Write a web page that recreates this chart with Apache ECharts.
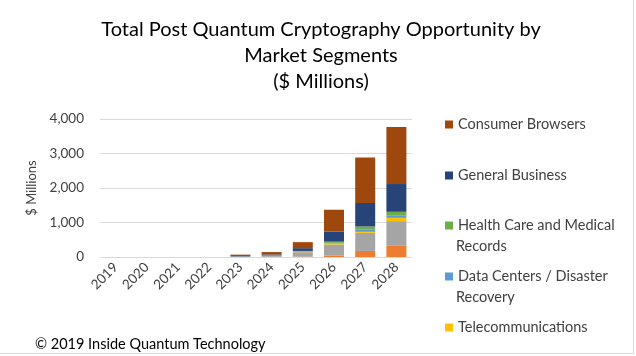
<!DOCTYPE html>
<html>
<head>
<meta charset="utf-8">
<script src="https://cdn.jsdelivr.net/npm/echarts@6/dist/echarts.min.js"></script>
<style>html,body{margin:0;padding:0;background:#fff}#c{width:636px;height:356px}</style>
</head>
<body>
<div id="c"></div>
<script>
var years = ['2019','2020','2021','2022','2023','2024','2025','2026','2027','2028'];
// stacked bottom to top
var otherA = [0, 0, 0, 0, 2, 5, 10, 45, 175, 340];          // orange (not in visible legend)
var otherB = [0, 0, 0, 0, 10, 30, 130, 320, 525, 700];      // gray (not in visible legend)
var telecom = [0, 0, 0, 0, 1, 3, 6, 25, 30, 95];
var dataCenters = [0, 0, 0, 0, 1, 3, 10, 20, 75, 60];
var healthCare = [0, 0, 0, 0, 2, 4, 20, 35, 80, 115];
var generalBusiness = [0, 0, 0, 0, 12, 30, 80, 290, 680, 805];
var consumerBrowsers = [0, 0, 0, 0, 40, 68, 175, 635, 1320, 1650];
var yTicks = [0, 1000, 2000, 3000, 4000];

var font = 'Lato, "Open Sans", sans-serif';
var legFont = 14.5;
var chart = echarts.init(document.getElementById('c'));
function ser(name, data, color) {
  return { name: name, type: 'bar', stack: 't', data: data, barWidth: 20,
    itemStyle: { color: color }, emphasis: { disabled: true } };
}
function leg(name, top) {
  return {
    data: [name], left: 445, top: top, orient: 'vertical',
    itemWidth: 8, itemHeight: 8, itemGap: 0, padding: 0,
    icon: 'rect', selectedMode: false,
    formatter: function (n) {
      if (n === 'Health Care and Medical Records') return 'Health Care and Medical';
      if (n === 'Data Centers / Disaster Recovery') return 'Data Centers / Disaster';
      return n;
    },
    textStyle: { fontFamily: font, fontSize: legFont, color: '#404040' }
  };
}
function cont(text, top) {
  return { type: 'text', left: 456, top: top,
    style: { text: text, font: legFont + 'px ' + font, fill: '#404040' } };
}
chart.setOption({
  animation: false,
  title: [{
    text: 'Total Post Quantum Cryptography Opportunity by\nMarket Segments\n($ Millions)',
    left: 316, top: 12, textAlign: 'center',
    textStyle: { fontFamily: font, fontSize: 20, fontWeight: 'normal', color: '#000', lineHeight: 26 }
  }, {
    text: '\u00A9 2019 Inside Quantum Technology',
    left: 30, top: 332,
    textStyle: { fontFamily: font, fontSize: 14.5, fontWeight: 'normal', color: '#000' }
  }],
  legend: [
    leg('Consumer Browsers', 117),
    leg('General Business', 168),
    leg('Health Care and Medical Records', 218),
    leg('Data Centers / Disaster Recovery', 269),
    leg('Telecommunications', 320)
  ],
  grid: { left: 100, right: 224, top: 119, bottom: 99, containLabel: false },
  xAxis: {
    type: 'category', data: years,
    axisLine: { show: false }, axisTick: { show: false },
    axisLabel: { rotate: 45, fontFamily: font, fontSize: 13.5, color: '#404040', margin: 8, interval: 0 }
  },
  yAxis: {
    type: 'value', min: yTicks[0], max: yTicks[yTicks.length - 1], interval: 1000,
    name: '$ Millions', nameLocation: 'middle', nameGap: 62,
    nameTextStyle: { fontFamily: font, fontSize: 13, color: '#404040' },
    axisLabel: { fontFamily: font, fontSize: 13.5, color: '#404040', margin: 16,
      formatter: function (v) { return v.toLocaleString('en-US'); } },
    splitLine: { lineStyle: { color: '#d9d9d9', width: 1 } },
    axisLine: { show: false }, axisTick: { show: false }
  },
  series: [
    ser('Other Segment A', otherA, '#ED7D31'),
    ser('Other Segment B', otherB, '#A5A5A5'),
    ser('Telecommunications', telecom, '#FFC000'),
    ser('Data Centers / Disaster Recovery', dataCenters, '#5B9BD5'),
    ser('Health Care and Medical Records', healthCare, '#70AD47'),
    ser('General Business', generalBusiness, '#264478'),
    ser('Consumer Browsers', consumerBrowsers, '#9E480E')
  ],
  graphic: [
    cont('Records', 239),
    cont('Recovery', 290),
    { type: 'line', shape: { x1: 633.5, y1: 0, x2: 633.5, y2: 354 }, style: { stroke: '#d9d9d9', lineWidth: 1 } },
    { type: 'line', shape: { x1: 0, y1: 353.5, x2: 634, y2: 353.5 }, style: { stroke: '#d9d9d9', lineWidth: 1 } }
  ]
});
</script>
</body>
</html>
